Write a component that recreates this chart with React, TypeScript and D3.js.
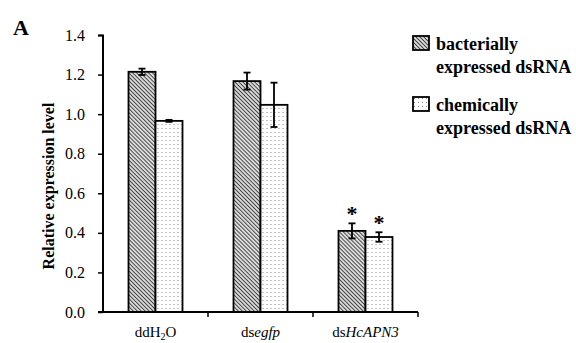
import React, { useEffect, useRef } from "react";
import * as d3 from "d3";

const categories = ["ddH2O", "dsegfp", "dsHcAPN3"];
const seriesNames = ["bacterially expressed dsRNA", "chemically expressed dsRNA"];
const bacterial = [1.214, 1.167, 0.41];
const bacterialErr = [0.016, 0.043, 0.038];
const chemical = [0.966, 1.047, 0.379];
const chemicalErr = [0.005, 0.112, 0.024];
const significant = [false, false, true];
const yTicks = [0, 0.2, 0.4, 0.6, 0.8, 1.0, 1.2, 1.4];

const FONT = "'Liberation Serif', 'Times New Roman', Times, serif";

export default function App() {
  const svgRef = useRef<SVGSVGElement | null>(null);

  useEffect(() => {
    if (!svgRef.current) return;
    const svg = d3.select(svgRef.current);
    svg.selectAll("*").remove();

    const width = 576;
    const height = 343;
    const margin = { top: 35, left: 103, right: 158, bottom: 31 };
    const chartW = width - margin.left - margin.right;
    const chartH = height - margin.top - margin.bottom;

    // patterns
    const defs = svg.append("defs");
    const hatch = defs.append("pattern")
      .attr("id", "hatch")
      .attr("patternUnits", "userSpaceOnUse")
      .attr("width", 2.8)
      .attr("height", 2.8)
      .attr("patternTransform", "rotate(-45)");
    hatch.append("rect").attr("width", 2.8).attr("height", 2.8).attr("fill", "#fff");
    hatch.append("line")
      .attr("x1", 1.4).attr("x2", 1.4).attr("y1", 0).attr("y2", 2.8)
      .attr("stroke", "#444").attr("stroke-width", 1.3);

    const dots = defs.append("pattern")
      .attr("id", "dots")
      .attr("patternUnits", "userSpaceOnUse")
      .attr("width", 4)
      .attr("height", 4);
    dots.append("rect").attr("width", 4).attr("height", 4).attr("fill", "#fff");
    dots.append("rect").attr("x", 1).attr("y", 1).attr("width", 1).attr("height", 1).attr("fill", "#888");

    const g = svg.append("g").attr("transform", `translate(${margin.left},${margin.top})`);

    const x0 = d3.scaleBand().domain(categories).range([0, chartW]).paddingInner(0).paddingOuter(0);
    const x1 = d3.scaleBand().domain(seriesNames).range([0, 54]);
    const groupOffset = (x0.bandwidth() - 54) / 2;
    const y = d3.scaleLinear().domain([0, 1.4]).range([chartH, 0]);

    // y axis
    const yAxis = d3.axisLeft(y)
      .tickValues(yTicks)
      .tickSize(5)
      .tickPadding(13)
      .tickFormat(d => d3.format(".1f")(d as number));
    const yg = g.append("g").call(yAxis);
    yg.select(".domain").attr("stroke", "#000").attr("stroke-width", 2).attr("d", `M-5,0.5H0V${chartH}`);
    yg.selectAll(".tick line").attr("stroke", "#000").attr("stroke-width", 1.5);
    yg.selectAll("text").attr("font-family", FONT).attr("font-size", 16).attr("fill", "#000");

    // bars
    const rows = categories.map((c, i) => ({
      cat: c,
      vals: [
        { s: seriesNames[0], v: bacterial[i], e: bacterialErr[i], fill: "url(#hatch)" },
        { s: seriesNames[1], v: chemical[i], e: chemicalErr[i], fill: "url(#dots)" },
      ],
      sig: significant[i],
    }));

    const groups = g.selectAll("g.grp").data(rows).join("g")
      .attr("class", "grp")
      .attr("transform", d => `translate(${x0(d.cat)! + groupOffset},0)`);

    groups.selectAll("rect.bar").data(d => d.vals).join("rect")
      .attr("class", "bar")
      .attr("x", d => x1(d.s)!)
      .attr("y", d => y(d.v))
      .attr("width", x1.bandwidth())
      .attr("height", d => chartH - y(d.v))
      .attr("fill", d => d.fill)
      .attr("stroke", "#000")
      .attr("stroke-width", 1.8);

    const eb = groups.selectAll("g.err").data(d => d.vals).join("g").attr("class", "err");
    const cx = (d: any) => x1(d.s)! + x1.bandwidth() / 2;
    eb.append("line")
      .attr("x1", cx).attr("x2", cx)
      .attr("y1", d => y(d.v - d.e)).attr("y2", d => y(d.v + d.e))
      .attr("stroke", "#000").attr("stroke-width", 1.8);
    eb.append("line")
      .attr("x1", d => cx(d) - 3.5).attr("x2", d => cx(d) + 3.5)
      .attr("y1", d => y(d.v + d.e)).attr("y2", d => y(d.v + d.e))
      .attr("stroke", "#000").attr("stroke-width", 1.8);
    eb.append("line")
      .attr("x1", d => cx(d) - 3.5).attr("x2", d => cx(d) + 3.5)
      .attr("y1", d => y(d.v - d.e)).attr("y2", d => y(d.v - d.e))
      .attr("stroke", "#000").attr("stroke-width", 1.8);

    groups.filter(d => d.sig).selectAll("text.star").data(d => d.vals).join("text")
      .attr("class", "star")
      .attr("x", cx)
      .attr("y", d => y(d.v + d.e) - 2)
      .attr("text-anchor", "middle")
      .attr("font-family", FONT)
      .attr("font-weight", "bold")
      .attr("font-size", 22)
      .text("*");

    // x axis
    const xg = g.append("g").attr("transform", `translate(0,${chartH})`);
    xg.append("line").attr("x1", -5).attr("x2", chartW).attr("y1", 0).attr("y2", 0)
      .attr("stroke", "#000").attr("stroke-width", 2);
    xg.selectAll("line.tk").data(categories).join("line")
      .attr("class", "tk")
      .attr("x1", (d, i) => x0.bandwidth() * (i + 1))
      .attr("x2", (d, i) => x0.bandwidth() * (i + 1))
      .attr("y1", 0).attr("y2", 5)
      .attr("stroke", "#000").attr("stroke-width", 1.5);

    const labels = xg.selectAll("text.xl").data(categories).join("text")
      .attr("class", "xl")
      .attr("x", d => x0(d)! + x0.bandwidth() / 2)
      .attr("y", 25)
      .attr("text-anchor", "middle")
      .attr("font-family", FONT)
      .attr("font-size", 15);
    labels.each(function (d) {
      const t = d3.select(this);
      if (d === "ddH2O") {
        t.append("tspan").text("ddH");
        t.append("tspan").attr("font-size", 10).attr("dy", 3).text("2");
        t.append("tspan").attr("dy", -3).text("O");
      } else {
        t.append("tspan").text("ds");
        t.append("tspan").attr("font-style", "italic").text(d.slice(2));
      }
    });

    // y label
    svg.append("text")
      .attr("transform", `translate(54,186) rotate(-90)`)
      .attr("text-anchor", "middle")
      .attr("font-family", FONT)
      .attr("font-weight", "bold")
      .attr("font-size", 16)
      .text("Relative expression level");

    // panel letter
    svg.append("text")
      .attr("x", 13).attr("y", 35)
      .attr("font-family", FONT)
      .attr("font-weight", "bold")
      .attr("font-size", 22)
      .text("A");

    // legend
    const legend = svg.append("g").attr("transform", "translate(413,36)");
    const items = legend.selectAll("g").data(seriesNames).join("g")
      .attr("transform", (d, i) => `translate(0,${i * 61})`);
    items.append("rect")
      .attr("x", 0).attr("y", 0).attr("width", 16).attr("height", 14)
      .attr("fill", (d, i) => (i === 0 ? "url(#hatch)" : "url(#dots)"))
      .attr("stroke", "#000").attr("stroke-width", 1.8);
    items.each(function (d) {
      const words = d.split(" ");
      const t = d3.select(this).append("text")
        .attr("y", 14)
        .attr("font-family", FONT)
        .attr("font-weight", "bold")
        .attr("font-size", 18);
      t.append("tspan").attr("x", 23).text(words[0]);
      t.append("tspan").attr("x", 23).attr("dy", 22.5).text(words.slice(1).join(" "));
    });
  }, []);

  return (
    <svg
      ref={svgRef}
      width={576}
      height={343}
      style={{ position: "absolute", left: 0, top: 0, background: "#fff", display: "block" }}
    />
  );
}
